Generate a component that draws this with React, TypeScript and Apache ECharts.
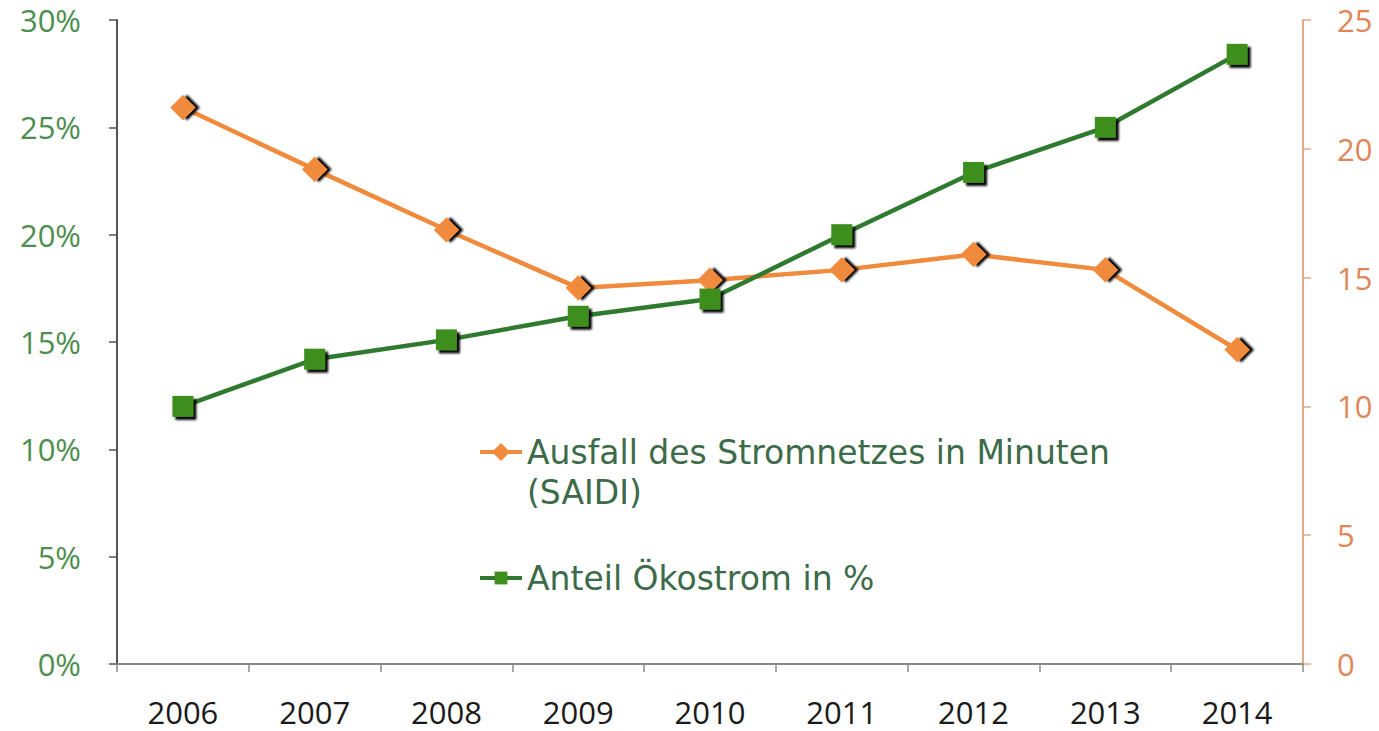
import React, { useEffect, useRef } from "react";
import * as echarts from "echarts";

const years = ["2006", "2007", "2008", "2009", "2010", "2011", "2012", "2013", "2014"];
const saidiMinutes = [21.6, 19.2, 16.85, 14.6, 14.9, 15.3, 15.9, 15.3, 12.2];
const oekostromShare = [12.0, 14.2, 15.1, 16.2, 17.0, 20.0, 22.9, 25.0, 28.4];
const saidiName = "Ausfall des Stromnetzes in Minuten";
const saidiSub = "(SAIDI)";
const oekoName = "Anteil Ökostrom in %";

const ORANGE = "#F08A3C";
const GREEN_LINE = "#2F7A2F";
const GREEN_FILL = "#3E8E1E";

export default function App() {
  const ref = useRef<HTMLDivElement>(null);
  useEffect(() => {
    if (!ref.current) return;
    const chart = echarts.init(ref.current, null, { renderer: "svg" });
    const tickFont = { fontFamily: "Open Sans", fontSize: 31 };
    const legendText = {
      fontFamily: "DejaVu Sans",
      fontSize: 33,
      color: "#3D6B4A",
      lineHeight: 40,
    };
    chart.setOption({
      animation: false,
      backgroundColor: "#ffffff",
      grid: { left: 117, right: 76, top: 20, bottom: 67 },
      xAxis: {
        type: "category",
        data: years,
        boundaryGap: true,
        axisLine: { lineStyle: { color: "#8a8a8a", width: 2 } },
        axisTick: { show: true, length: 8, lineStyle: { color: "#8a8a8a", width: 1.5 } },
        axisLabel: { ...tickFont, color: "#1a1a1a", margin: 32 },
      },
      yAxis: [
        {
          type: "value",
          min: 0,
          max: 0.3,
          interval: 0.05,
          position: "left",
          splitLine: { show: false },
          axisLine: { show: true, lineStyle: { color: "#555", width: 2 } },
          axisTick: { show: true, length: 8, lineStyle: { color: "#555", width: 1.5 } },
          axisLabel: {
            ...tickFont,
            color: "#4E8E4E",
            margin: 36,
            padding: [8, 0, 0, 0],
            formatter: (v: number) => Math.round(v * 100) + "%",
          },
        },
        {
          type: "value",
          min: 0,
          max: 25,
          interval: 5,
          position: "right",
          splitLine: { show: false },
          axisLine: { show: true, lineStyle: { color: "#E9A884", width: 2 } },
          axisTick: { show: true, length: 8, lineStyle: { color: "#E9A884", width: 1.5 } },
          axisLabel: { ...tickFont, color: "#E0875A", margin: 34, padding: [8, 0, 0, 0] },
        },
      ],
      legend: [
        {
          data: [saidiName],
          left: 478,
          top: 392,
          padding: 0,
          itemWidth: 42,
          itemHeight: 16,
          lineStyle: { width: 4 },
          formatter: () => " \n" + saidiName + "\n" + saidiSub,
          textStyle: legendText,
          selectedMode: false,
        },
        {
          data: [oekoName],
          left: 478,
          top: 558,
          padding: 0,
          itemWidth: 42,
          itemHeight: 16,
          lineStyle: { width: 4 },
          textStyle: legendText,
          selectedMode: false,
        },
      ],
      series: [
        {
          name: saidiName,
          type: "line",
          yAxisIndex: 1,
          data: saidiMinutes,
          symbol: "rect",
          symbolSize: 18,
          symbolRotate: 45,
          lineStyle: { color: ORANGE, width: 4.5 },
          itemStyle: {
            color: ORANGE,
            shadowColor: "#000",
            shadowOffsetX: 3,
            shadowOffsetY: 3,
            shadowBlur: 2,
          },
        },
        {
          name: oekoName,
          type: "line",
          yAxisIndex: 0,
          data: oekostromShare.map((v) => v / 100),
          symbol: "rect",
          symbolSize: 21,
          lineStyle: { color: GREEN_LINE, width: 4.5 },
          itemStyle: {
            color: GREEN_FILL,
            shadowColor: "#000",
            shadowOffsetX: 3,
            shadowOffsetY: 3,
            shadowBlur: 2,
          },
        },
      ],
    });
    return () => chart.dispose();
  }, []);
  return (
    <div
      ref={ref}
      style={{ position: "fixed", left: 0, top: 0, width: 1379, height: 731 }}
    />
  );
}
